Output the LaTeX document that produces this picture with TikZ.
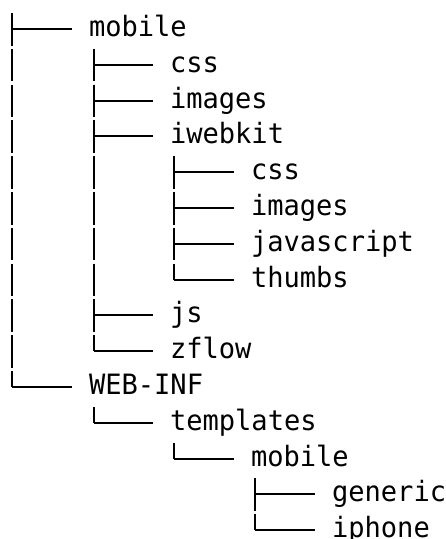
\documentclass[tikz,border=0pt]{standalone}
\usepackage{fontspec}
\newfontfamily\treefont[FakeStretch=0.967]{DejaVu Sans Mono}
\begin{document}
\begin{tikzpicture}[x=1pt,y=-1pt,
  entry/.style={anchor=west,inner sep=0pt,outer sep=0pt,
    text height=21pt,text depth=6pt,
    font=\treefont\fontsize{28}{30}\selectfont},
  stem/.style={line width=2pt,dash pattern=on 32.6pt off 3.2pt},
  twig/.style={line width=2pt,shorten >=17pt}]
\useasboundingbox (0,0) rectangle (446,539);
% rows are 35.8 apart, each level is indented by 81
\def\rowy#1{29+35.8*#1}
\def\tx#1{89+81*#1}
% entries
\node[entry] (mobile)    at ({\tx{0}},{\rowy{0}})  {mobile};
\node[entry] (css)       at ({\tx{1}},{\rowy{1}})  {css};
\node[entry] (images)    at ({\tx{1}},{\rowy{2}})  {images};
\node[entry] (iwebkit)   at ({\tx{1}},{\rowy{3}})  {iwebkit};
\node[entry] (kcss)      at ({\tx{2}},{\rowy{4}})  {css};
\node[entry] (kimages)   at ({\tx{2}},{\rowy{5}})  {images};
\node[entry] (kjs)       at ({\tx{2}},{\rowy{6}})  {javascript};
\node[entry] (kthumbs)   at ({\tx{2}},{\rowy{7}})  {thumbs};
\node[entry] (js)        at ({\tx{1}},{\rowy{8}})  {js};
\node[entry] (zflow)     at ({\tx{1}},{\rowy{9}})  {zflow};
\node[entry] (webinf)    at ({\tx{0}},{\rowy{10}}) {WEB-INF};
\node[entry] (templates) at ({\tx{1}},{\rowy{11}}) {templates};
\node[entry] (tmobile)   at ({\tx{2}},{\rowy{12}}) {mobile};
\node[entry] (generic)   at ({\tx{3}},{\rowy{13}}) {generic};
\node[entry] (iphone)    at ({\tx{3}},{\rowy{14}}) {iphone};
% tops of the vertical stems (one text row above their first child)
\coordinate (root)      at (12,{\rowy{0}-16});
\coordinate (mobileT)   at (94,{\rowy{1}-16});
\coordinate (iwebkitT)  at (174,{\rowy{4}-16});
\coordinate (webinfT)   at (94,{\rowy{11}-16});
\coordinate (templT)    at (174,{\rowy{12}-16});
\coordinate (tmobileT)  at (255,{\rowy{13}-16});
% connectors: a stem down from the parent, then a twig across to the child
\foreach \t/\c in {root/mobile,root/webinf,
    mobileT/css,mobileT/images,mobileT/iwebkit,mobileT/js,mobileT/zflow,
    iwebkitT/kcss,iwebkitT/kimages,iwebkitT/kjs,iwebkitT/kthumbs,
    webinfT/templates,templT/tmobile,
    tmobileT/generic,tmobileT/iphone}{
  \draw[stem] (\t) -- (\t |- \c.west);
  \draw[twig] (\t |- \c.west) -- (\c.west);
}
\end{tikzpicture}
\end{document}
